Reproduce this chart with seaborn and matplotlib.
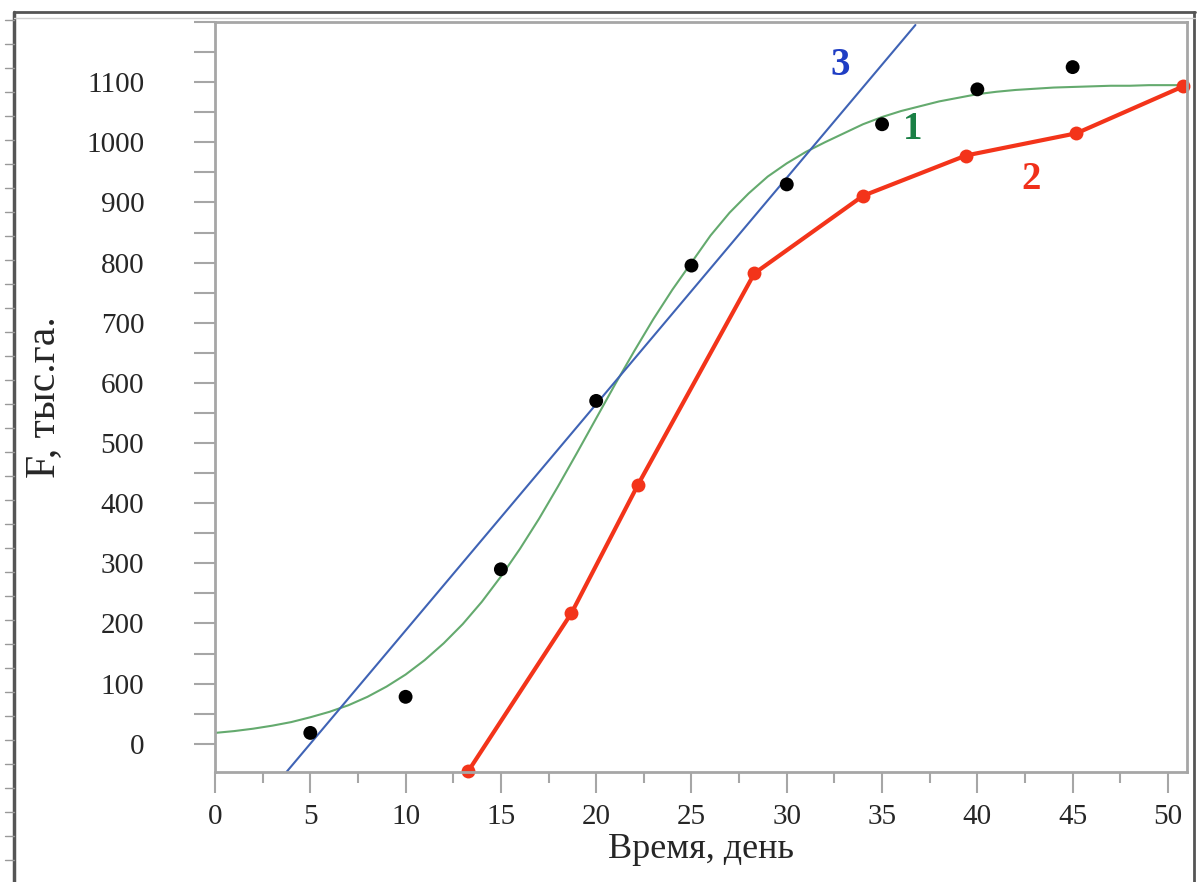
import numpy as np
import pandas as pd
import matplotlib.pyplot as plt
import seaborn as sns
from matplotlib.lines import Line2D
from matplotlib.ticker import MultipleLocator

# observed points (black dots)
obs_day = [5, 10, 15, 20, 25, 30, 35, 40, 45]
obs_area = [18, 78, 290, 570, 795, 930, 1030, 1088, 1125]

# curve 1 - smooth model curve (green)
c1_day = list(range(0, 52))
c1_area = [18, 21, 25, 30, 36, 44, 53, 64, 78, 95,
           115, 139, 167, 199, 236, 278, 324, 374, 428, 484,
           541, 598, 653, 706, 755, 800, 845, 883, 915, 943,
           965, 984, 1000, 1015, 1030, 1042, 1052, 1060, 1068, 1074,
           1080, 1084, 1087, 1089, 1091, 1092, 1093, 1094, 1094, 1095,
           1095, 1095]

# curve 2 - red polyline with markers
c2_day = [13.3, 18.7, 22.2, 28.3, 34.0, 39.4, 45.2, 50.8]
c2_area = [-45, 217, 431, 782, 911, 978, 1015, 1093]

# curve 3 - straight line (blue)
c3_day = [3.75, 36.75]
c3_area = [-47, 1195]

curve_labels = ['1', '2', '3']
label_day = [36.6, 42.8, 32.8]
label_area = [1021, 938, 1128]
label_colors = ['#1a8045', '#f0301a', '#1f3ec4']

sns.set_style("ticks")
plt.rcParams['font.family'] = ['Liberation Serif', 'DejaVu Serif']

fig = plt.figure(figsize=(11.97, 8.82), dpi=100)
ax = fig.add_axes([215 / 1197, 1 - 772 / 882, (1187 - 215) / 1197, (772 - 22) / 882])

df1 = pd.DataFrame({'day': c1_day, 'area': c1_area})
df2 = pd.DataFrame({'day': c2_day, 'area': c2_area})
df3 = pd.DataFrame({'day': c3_day, 'area': c3_area})
dfo = pd.DataFrame({'day': obs_day, 'area': obs_area})

sns.lineplot(data=df1, x='day', y='area', ax=ax, color='#64aa6e', linewidth=1.5,
             sort=False, estimator=None)
sns.lineplot(data=df3, x='day', y='area', ax=ax, color='#3f63b5', linewidth=1.5,
             sort=False, estimator=None)
sns.lineplot(data=df2, x='day', y='area', ax=ax, color='#f3341a', linewidth=3,
             marker='o', markersize=10, markeredgewidth=0, sort=False,
             estimator=None, clip_on=False)
sns.scatterplot(data=dfo, x='day', y='area', ax=ax, color='black', s=100,
                edgecolor='none', zorder=5)

for t, xd, yd, c in zip(curve_labels, label_day, label_area, label_colors):
    ax.text(xd, yd, t, color=c, fontsize=28, fontweight='bold',
            ha='center', va='center')

ax.set_xlim(0, 51)
ax.set_ylim(-47, 1200)
ax.xaxis.set_major_locator(MultipleLocator(5))
ax.xaxis.set_minor_locator(MultipleLocator(2.5))
ax.yaxis.set_major_locator(MultipleLocator(100))
ax.yaxis.set_minor_locator(MultipleLocator(50))
ax.set_yticks(np.arange(0, 1101, 100))

spine_c = '#a6a6a6'
for s in ax.spines.values():
    s.set_color(spine_c)
    s.set_linewidth(2)
ax.tick_params(axis='x', which='major', length=15, width=1.5, color=spine_c,
               labelsize=21, pad=8)
ax.tick_params(axis='x', which='minor', length=8, width=1.5, color=spine_c)
ax.tick_params(axis='y', which='both', length=15, width=1.5, color=spine_c,
               labelsize=21, pad=36)

ax.set_xlabel('Время, день', fontsize=26, labelpad=2)
ax.set_ylabel('F, тыс.га.', fontsize=30)
ax.yaxis.set_label_coords(-152 / 972, 0.5)

# outer frame of the screenshot
frame_c = '#555555'
fig.add_artist(Line2D([14 / 1197, 14 / 1197], [0, 1 - 12 / 882], color=frame_c, lw=2.5))
fig.add_artist(Line2D([14 / 1197, 1195 / 1197], [1 - 12 / 882, 1 - 12 / 882], color=frame_c, lw=2))
fig.add_artist(Line2D([1194 / 1197, 1194 / 1197], [0, 1 - 12 / 882], color=frame_c, lw=2))
fig.add_artist(Line2D([14 / 1197, 1195 / 1197], [1 - 18 / 882, 1 - 18 / 882], color='#d0d0d0', lw=1))
for yp in np.arange(20, 882, 24):
    fig.add_artist(Line2D([5 / 1197, 14 / 1197], [1 - yp / 882, 1 - yp / 882], color='#999999', lw=1))

fig.savefig('out.png', dpi=100, facecolor='white')
